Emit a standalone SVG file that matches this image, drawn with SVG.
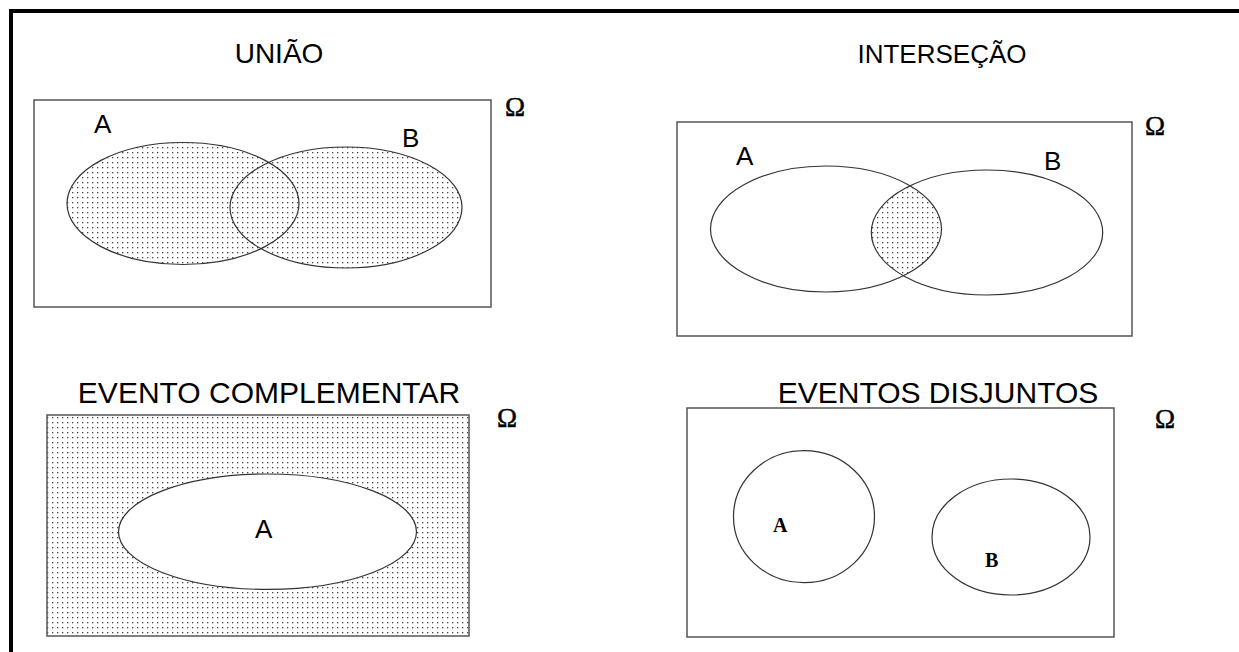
<svg xmlns="http://www.w3.org/2000/svg" width="1239" height="652" viewBox="0 0 1239 652">
<style>
.title{font-family:"Liberation Sans",Arial,sans-serif;font-size:28px;fill:#000;text-anchor:middle}
.lbl{font-family:"Liberation Sans",Arial,sans-serif;font-size:26px;fill:#000}
.omega{font-family:"Liberation Serif","Times New Roman",serif;font-size:27px;fill:#000;stroke:#000;stroke-width:0.5}
.slbl{font-family:"Liberation Serif","Times New Roman",serif;font-size:20px;font-weight:bold;fill:#000}
.box{fill:#fff;stroke:#555;stroke-width:1.5}
.shape{fill:none;stroke:#333;stroke-width:1.2}
</style>
<defs>
<pattern id="dots" x="0" y="0" width="5" height="5" patternUnits="userSpaceOnUse">
<rect x="0" y="0" width="5" height="5" fill="#fff"/>
<rect x="2" y="2" width="1.3" height="1.3" fill="#444"/>
</pattern>
<clipPath id="clipIA"><ellipse cx="826" cy="229" rx="115.5" ry="63"/></clipPath>
</defs>
<rect width="1239" height="652" fill="#fff"/>
<rect x="11" y="11" width="1300" height="700" fill="none" stroke="#000" stroke-width="4"/>

<g id="uniao">
<text class="title" x="279" y="63">UNIÃO</text>
<rect class="box" x="34" y="100" width="457" height="207"/>
<ellipse cx="183" cy="203.5" rx="116" ry="61" fill="url(#dots)"/>
<ellipse cx="346" cy="207.5" rx="116" ry="60.5" fill="url(#dots)"/>
<ellipse class="shape" cx="183" cy="203.5" rx="116" ry="61"/>
<ellipse class="shape" cx="346" cy="207.5" rx="116" ry="60.5"/>
<text class="lbl" x="94" y="133">A</text>
<text class="lbl" x="402" y="147">B</text>
<text class="omega" x="505" y="116">Ω</text>
</g>

<g id="intersecao">
<text class="title" x="942" y="63" style="font-size:26px">INTERSEÇÃO</text>
<rect class="box" x="677" y="122" width="455" height="214"/>
<ellipse cx="987" cy="232.5" rx="115.7" ry="62.5" fill="url(#dots)" clip-path="url(#clipIA)"/>
<ellipse class="shape" cx="826" cy="229" rx="115.5" ry="63"/>
<ellipse class="shape" cx="987" cy="232.5" rx="115.7" ry="62.5"/>
<text class="lbl" x="736" y="165">A</text>
<text class="lbl" x="1044" y="170">B</text>
<text class="omega" x="1145" y="135">Ω</text>
</g>

<g id="complementar">
<text class="title" x="269" y="403" style="font-size:30px">EVENTO COMPLEMENTAR</text>
<rect x="47" y="415" width="422" height="221" fill="url(#dots)" stroke="#555" stroke-width="1.5"/>
<ellipse cx="267.5" cy="531.7" rx="149" ry="57.7" fill="#fff" stroke="#333" stroke-width="1.2"/>
<text class="lbl" x="255" y="538">A</text>
<text class="omega" x="497" y="427">Ω</text>
</g>

<g id="disjuntos">
<text class="title" x="938" y="403" style="font-size:30px">EVENTOS DISJUNTOS</text>
<rect class="box" x="687" y="408" width="427" height="229"/>
<ellipse class="shape" cx="804" cy="516.7" rx="70.5" ry="66"/>
<ellipse class="shape" cx="1011" cy="537" rx="79" ry="58"/>
<text class="slbl" x="773" y="532">A</text>
<text class="slbl" x="985" y="567">B</text>
<text class="omega" x="1155" y="428">Ω</text>
</g>
<g id="connectors"></g>
</svg>
